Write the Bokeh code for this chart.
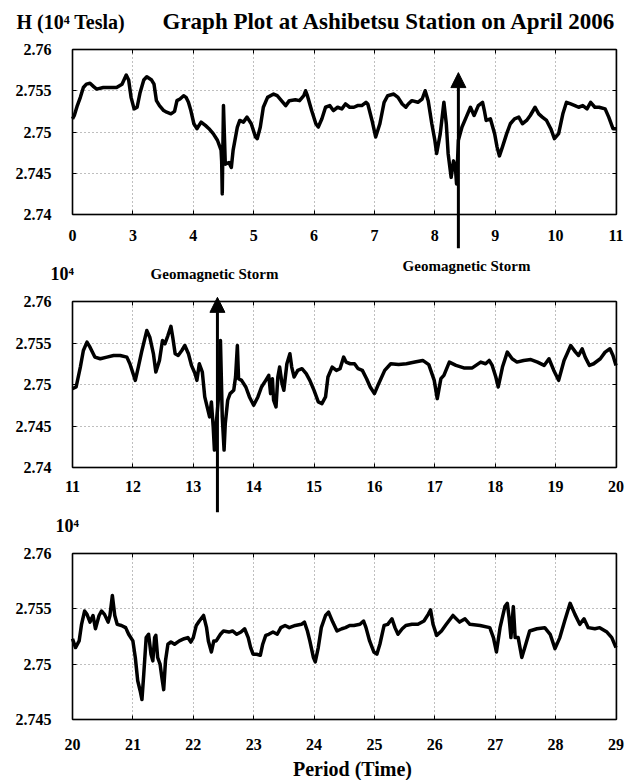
from bokeh.plotting import figure
from bokeh.models import (FixedTicker, NumeralTickFormatter, Label, Arrow, NormalHead,
                          Range1d, BoxAnnotation, LinearAxis)
from bokeh.layouts import column
from bokeh.embed import file_html
from bokeh.resources import INLINE

FONT = "Liberation Serif"

# ---------------- data ----------------
# Panel 1 : days 2..11 (first tick printed as "0")
p1_day = [2.00, 2.03, 2.08, 2.13, 2.18, 2.23, 2.29, 2.35, 2.40, 2.51,
          2.62, 2.73, 2.82, 2.89, 2.93, 2.97, 3.02, 3.07, 3.12, 3.18,
          3.23, 3.31, 3.35, 3.39, 3.44, 3.51, 3.56, 3.63, 3.69, 3.73,
          3.78, 3.84, 3.88, 3.92, 3.96, 4.01, 4.06, 4.13, 4.20, 4.26,
          4.33, 4.40, 4.46, 4.47, 4.48, 4.50, 4.53, 4.59, 4.63, 4.66,
          4.73, 4.77, 4.83, 4.89, 4.96, 5.03, 5.06, 5.11, 5.16, 5.23,
          5.33, 5.39, 5.46, 5.53, 5.59, 5.69, 5.76, 5.83, 5.86, 5.89,
          5.96, 6.03, 6.07, 6.13, 6.19, 6.26, 6.32, 6.39, 6.46, 6.52,
          6.59, 6.66, 6.72, 6.79, 6.86, 6.89, 6.96, 7.02, 7.09, 7.16,
          7.22, 7.32, 7.39, 7.46, 7.52, 7.56, 7.62, 7.72, 7.79, 7.84,
          7.89, 7.95, 8.00, 8.03, 8.09, 8.15, 8.19, 8.22, 8.27, 8.31,
          8.34, 8.36, 8.39, 8.42, 8.45, 8.52, 8.59, 8.65, 8.72, 8.79,
          8.82, 8.85, 8.92, 8.99, 9.03, 9.07, 9.12, 9.19, 9.25, 9.32,
          9.39, 9.45, 9.52, 9.58, 9.66, 9.72, 9.78, 9.85, 9.92, 9.98,
          10.05, 10.12, 10.18, 10.25, 10.32, 10.38, 10.45, 10.52, 10.58, 10.65,
          10.72, 10.82, 10.88, 10.95, 11.00]
p1_h = [2.7516, 2.7520, 2.7532, 2.7542, 2.7554, 2.7558, 2.7559, 2.7555, 2.7552, 2.7554,
        2.7554, 2.7554, 2.7558, 2.7569, 2.7563, 2.7542, 2.7528, 2.7530, 2.7548, 2.7563,
        2.7567, 2.7563, 2.7558, 2.7538, 2.7532, 2.7526, 2.7524, 2.7522, 2.7525, 2.7538,
        2.7540, 2.7544, 2.7542, 2.7536, 2.7526, 2.7510, 2.7504, 2.7512, 2.7508, 2.7504,
        2.7498, 2.7490, 2.7478, 2.7465, 2.7425, 2.7532, 2.7461, 2.7463, 2.7457, 2.7478,
        2.7506, 2.7514, 2.7512, 2.7518, 2.7510, 2.7494, 2.7492, 2.7506, 2.7530, 2.7542,
        2.7546, 2.7544, 2.7538, 2.7532, 2.7538, 2.7539, 2.7538, 2.7544, 2.7550, 2.7544,
        2.7526, 2.7510, 2.7506, 2.7516, 2.7530, 2.7532, 2.7526, 2.7530, 2.7528, 2.7534,
        2.7530, 2.7530, 2.7532, 2.7532, 2.7536, 2.7534, 2.7514, 2.7494, 2.7510, 2.7536,
        2.7544, 2.7546, 2.7542, 2.7534, 2.7530, 2.7534, 2.7538, 2.7536, 2.7540, 2.7550,
        2.7538, 2.7510, 2.7490, 2.7474, 2.7498, 2.7536, 2.7510, 2.7474, 2.7445, 2.7465,
        2.7457, 2.7437, 2.7490, 2.7498, 2.7506, 2.7518, 2.7530, 2.7520, 2.7532, 2.7536,
        2.7526, 2.7514, 2.7516, 2.7498, 2.7482, 2.7471, 2.7482, 2.7498, 2.7510, 2.7516,
        2.7518, 2.7510, 2.7514, 2.7520, 2.7530, 2.7522, 2.7518, 2.7514, 2.7504, 2.7492,
        2.7498, 2.7522, 2.7536, 2.7534, 2.7532, 2.7530, 2.7532, 2.7528, 2.7536, 2.7530,
        2.7530, 2.7528, 2.7518, 2.7504, 2.7504]

# Panel 2 : days 11..20
p2_day = [11.00, 11.06, 11.13, 11.18, 11.24, 11.29, 11.37, 11.46, 11.57, 11.68,
          11.79, 11.90, 11.95, 12.04, 12.09, 12.15, 12.23, 12.28, 12.34, 12.38,
          12.44, 12.49, 12.53, 12.58, 12.63, 12.66, 12.70, 12.75, 12.81, 12.86,
          12.92, 12.97, 13.03, 13.06, 13.10, 13.15, 13.19, 13.23, 13.27, 13.30,
          13.33, 13.35, 13.37, 13.40, 13.43, 13.45, 13.48, 13.51, 13.53, 13.57,
          13.61, 13.67, 13.70, 13.73, 13.75, 13.80, 13.87, 13.93, 14.00, 14.07,
          14.13, 14.20, 14.25, 14.28, 14.31, 14.33, 14.37, 14.40, 14.43, 14.47,
          14.50, 14.55, 14.60, 14.63, 14.67, 14.73, 14.80, 14.87, 14.93, 15.00,
          15.07, 15.13, 15.19, 15.23, 15.30, 15.37, 15.43, 15.49, 15.53, 15.60,
          15.67, 15.73, 15.80, 15.87, 15.93, 16.00, 16.07, 16.17, 16.27, 16.40,
          16.53, 16.67, 16.80, 16.90, 16.99, 17.04, 17.10, 17.15, 17.24, 17.35,
          17.48, 17.62, 17.76, 17.84, 17.90, 17.95, 18.01, 18.05, 18.12, 18.20,
          18.28, 18.36, 18.47, 18.59, 18.70, 18.81, 18.89, 18.97, 19.05, 19.14,
          19.19, 19.25, 19.33, 19.38, 19.44, 19.49, 19.56, 19.63, 19.74, 19.82,
          19.90, 19.95, 20.00]
p2_h = [2.7495, 2.7497, 2.7521, 2.7541, 2.7551, 2.7545, 2.7533, 2.7531, 2.7533, 2.7535,
        2.7535, 2.7533, 2.7525, 2.7505, 2.7521, 2.7541, 2.7565, 2.7557, 2.7537, 2.7515,
        2.7529, 2.7553, 2.7549, 2.7559, 2.7570, 2.7557, 2.7537, 2.7535, 2.7541, 2.7547,
        2.7537, 2.7523, 2.7513, 2.7505, 2.7525, 2.7515, 2.7485, 2.7473, 2.7461, 2.7479,
        2.7449, 2.7421, 2.7445, 2.7469, 2.7495, 2.7553, 2.7461, 2.7421, 2.7453, 2.7481,
        2.7489, 2.7493, 2.7509, 2.7547, 2.7507, 2.7505, 2.7497, 2.7485, 2.7475, 2.7485,
        2.7497, 2.7505, 2.7511, 2.7489, 2.7507, 2.7481, 2.7473, 2.7509, 2.7521, 2.7501,
        2.7493, 2.7525, 2.7537, 2.7521, 2.7509, 2.7517, 2.7519, 2.7513, 2.7505, 2.7493,
        2.7479, 2.7477, 2.7485, 2.7509, 2.7521, 2.7517, 2.7519, 2.7533, 2.7527, 2.7525,
        2.7525, 2.7519, 2.7517, 2.7507, 2.7497, 2.7489, 2.7501, 2.7517, 2.7525, 2.7524,
        2.7525, 2.7527, 2.7529, 2.7524, 2.7505, 2.7483, 2.7507, 2.7511, 2.7527, 2.7523,
        2.7520, 2.7520, 2.7527, 2.7525, 2.7529, 2.7523, 2.7509, 2.7497, 2.7521, 2.7539,
        2.7531, 2.7527, 2.7529, 2.7530, 2.7527, 2.7523, 2.7531, 2.7517, 2.7505, 2.7529,
        2.7537, 2.7547, 2.7539, 2.7535, 2.7543, 2.7533, 2.7523, 2.7525, 2.7531, 2.7539,
        2.7543, 2.7535, 2.7523]

# Panel 3 : days 20..29
p3_day = [20.00, 20.05, 20.11, 20.15, 20.20, 20.24, 20.29, 20.34, 20.38, 20.44,
          20.48, 20.53, 20.59, 20.62, 20.66, 20.70, 20.74, 20.81, 20.88, 20.93,
          21.00, 21.04, 21.08, 21.12, 21.15, 21.18, 21.22, 21.26, 21.30, 21.33,
          21.36, 21.38, 21.41, 21.45, 21.48, 21.51, 21.54, 21.58, 21.63, 21.69,
          21.77, 21.85, 21.91, 21.96, 22.00, 22.05, 22.10, 22.17, 22.22, 22.25,
          22.30, 22.34, 22.38, 22.45, 22.50, 22.59, 22.65, 22.72, 22.79, 22.85,
          22.91, 22.95, 22.99, 23.05, 23.11, 23.15, 23.20, 23.25, 23.32, 23.39,
          23.45, 23.52, 23.59, 23.69, 23.79, 23.84, 23.89, 23.93, 23.99, 24.02,
          24.07, 24.12, 24.19, 24.24, 24.31, 24.38, 24.46, 24.52, 24.59, 24.66,
          24.76, 24.82, 24.86, 24.92, 24.99, 25.04, 25.09, 25.16, 25.22, 25.29,
          25.34, 25.39, 25.46, 25.52, 25.62, 25.72, 25.82, 25.89, 25.93, 25.97,
          26.03, 26.11, 26.19, 26.30, 26.41, 26.50, 26.58, 26.75, 26.91, 26.97,
          27.02, 27.08, 27.16, 27.20, 27.23, 27.26, 27.30, 27.33, 27.38, 27.44,
          27.49, 27.57, 27.69, 27.82, 27.91, 27.99, 28.07, 28.15, 28.24, 28.32,
          28.40, 28.47, 28.54, 28.65, 28.73, 28.85, 28.93, 29.00]
p3_h = [2.7523, 2.7515, 2.7521, 2.7536, 2.7548, 2.7545, 2.7538, 2.7544, 2.7532, 2.7544,
        2.7548, 2.7545, 2.7538, 2.7544, 2.7562, 2.7544, 2.7536, 2.7535, 2.7533, 2.7527,
        2.7521, 2.7506, 2.7485, 2.7476, 2.7468, 2.7491, 2.7524, 2.7527, 2.7509, 2.7503,
        2.7524, 2.7526, 2.7506, 2.7500, 2.7488, 2.7477, 2.7503, 2.7518, 2.7520, 2.7518,
        2.7521, 2.7523, 2.7524, 2.7520, 2.7524, 2.7535, 2.7539, 2.7544, 2.7533, 2.7521,
        2.7511, 2.7521, 2.7521, 2.7527, 2.7530, 2.7529, 2.7530, 2.7527, 2.7529, 2.7532,
        2.7524, 2.7515, 2.7509, 2.7509, 2.7508, 2.7518, 2.7526, 2.7527, 2.7529, 2.7527,
        2.7533, 2.7535, 2.7533, 2.7535, 2.7536, 2.7538, 2.7530, 2.7521, 2.7506, 2.7502,
        2.7515, 2.7533, 2.7544, 2.7547, 2.7538, 2.7530, 2.7532, 2.7533, 2.7535, 2.7535,
        2.7536, 2.7539, 2.7533, 2.7521, 2.7511, 2.7509, 2.7518, 2.7535, 2.7536, 2.7541,
        2.7533, 2.7527, 2.7532, 2.7535, 2.7536, 2.7536, 2.7539, 2.7545, 2.7549, 2.7536,
        2.7526, 2.7530, 2.7536, 2.7544, 2.7538, 2.7541, 2.7536, 2.7535, 2.7533, 2.7524,
        2.7511, 2.7533, 2.7552, 2.7555, 2.7542, 2.7524, 2.7552, 2.7524, 2.7524, 2.7506,
        2.7515, 2.7530, 2.7532, 2.7533, 2.7527, 2.7514, 2.7524, 2.7539, 2.7555, 2.7545,
        2.7536, 2.7541, 2.7533, 2.7532, 2.7533, 2.7529, 2.7524, 2.7515]

# ticks
p1_xticks = [2, 3, 4, 5, 6, 7, 8, 9, 10, 11]
p1_xlabel_over = {2: "0"}
p2_xticks = [11, 12, 13, 14, 15, 16, 17, 18, 19, 20]
p3_xticks = [20, 21, 22, 23, 24, 25, 26, 27, 28, 29]
yticks_12 = [2.74, 2.745, 2.75, 2.755, 2.76]
yticks_3 = [2.745, 2.75, 2.755, 2.76]

# storm markers (day, arrow tail, arrow tip)
storm_day = [8.39, 13.40]
storm_tail = [2.7359, 2.7346]
storm_tip = [2.7572, 2.7605]

title_text = "Graph Plot at Ashibetsu Station on April 2006"
unit_text = "H (10\u2074 Tesla)"
scale_text = "10\u2074"
storm_text = "Geomagnetic Storm"
xlabel_text = "Period (Time)"

# ---------------- layout (pixels) ----------------
W = 632
BOX_L, BOX_R = 72, 615.5


def style_axis(ax, size="16px"):
    ax.major_label_text_font = FONT
    ax.major_label_text_font_style = "bold"
    ax.major_label_text_font_size = size
    ax.major_label_text_color = "black"
    ax.major_tick_in = 4
    ax.major_tick_out = 0
    ax.minor_tick_in = 0
    ax.minor_tick_out = 0
    ax.axis_line_width = 1.5
    ax.axis_line_color = "black"
    ax.major_tick_line_color = "black"


def make_panel(days, vals, xticks, yticks, H, T, B, x_standoff, overrides=None):
    x0, x1 = xticks[0], xticks[-1]
    y0, y1 = yticks[0], yticks[-1]
    kx = (BOX_R - BOX_L) / (x1 - x0)
    ky = (B - T) / (y1 - y0)
    p = figure(width=W, height=H, title=None,
               x_range=Range1d(x0 - BOX_L / kx, x1 + (W - BOX_R) / kx),
               y_range=Range1d(y0 - (H - B) / ky, y1 + T / ky),
               min_border=0, toolbar_location=None, output_backend="svg")
    p.line(days, vals, line_color="black", line_width=3.5, line_join="round")

    p.xaxis.ticker = FixedTicker(ticks=xticks)
    p.yaxis.ticker = FixedTicker(ticks=yticks)
    p.yaxis.formatter = NumeralTickFormatter(format="0.[000]")
    if overrides:
        p.xaxis.major_label_overrides = overrides
    p.xaxis.fixed_location = y0
    p.yaxis.fixed_location = x0
    p.xaxis.bounds = (x0, x1)
    p.yaxis.bounds = (y0, y1)
    style_axis(p.xaxis[0])
    style_axis(p.yaxis[0])
    p.xaxis.major_label_standoff = x_standoff
    p.yaxis.major_label_standoff = 21

    # box ticks on the top and right sides (no labels)
    top_ax = LinearAxis(ticker=FixedTicker(ticks=xticks), fixed_location=y1, bounds=(x0, x1))
    right_ax = LinearAxis(ticker=FixedTicker(ticks=yticks), fixed_location=x1, bounds=(y0, y1))
    for ax in (top_ax, right_ax):
        style_axis(ax)
        ax.major_label_text_alpha = 0
        ax.major_label_text_font_size = "1px"
    p.add_layout(top_ax, "above")
    p.add_layout(right_ax, "right")

    p.xgrid.cross_bounds = (y0, y1)
    p.ygrid.cross_bounds = (x0, x1)
    p.grid.grid_line_color = "black"
    p.grid.grid_line_dash = "1 3"
    p.grid.grid_line_alpha = 0.5

    p.outline_line_color = None
    p.background_fill_color = "white"
    p.border_fill_color = "white"
    p.add_layout(BoxAnnotation(left=x0, right=x1, bottom=y0, top=y1,
                               fill_color=None, line_color="black", line_width=1.5))
    return p


def add_text(p, x, y, text, size, align="left"):
    p.add_layout(Label(x=x, y=y, x_units="screen", y_units="screen", text=text,
                       text_font=FONT, text_font_style="bold", text_font_size=size,
                       text_align=align, text_baseline="middle", text_color="black"))


def add_storm(p, i):
    p.add_layout(Arrow(end=NormalHead(size=15, fill_color="black", line_color="black"),
                       x_start=storm_day[i], y_start=storm_tail[i],
                       x_end=storm_day[i], y_end=storm_tip[i],
                       line_width=3, line_color="black"))


# canvases: p1 0-252, p2 252-514, p3 514-780 (page pixels)
p1 = make_panel(p1_day, p1_h, p1_xticks, yticks_12, 252, 49, 214, 15, p1_xlabel_over)
p2 = make_panel(p2_day, p2_h, p2_xticks, yticks_12, 262, 49, 215, 13)
p3 = make_panel(p3_day, p3_h, p3_xticks, yticks_3, 266, 39, 205, 19)

add_storm(p1, 0)
add_storm(p2, 1)

add_text(p1, 16, 231, unit_text, "20px")
add_text(p1, 162, 231, title_text, "23px")
add_text(p2, 50, 241, scale_text, "18px")
add_text(p2, 214, 241, storm_text, "15px", "center")
add_text(p2, 466, 249, storm_text, "15px", "center")
add_text(p3, 55, 255, scale_text, "18px")
add_text(p3, 352, 12, xlabel_text, "20px", "center")

layout = column(p1, p2, p3, spacing=0)
open("out.html", "w").write(file_html(layout, INLINE))
